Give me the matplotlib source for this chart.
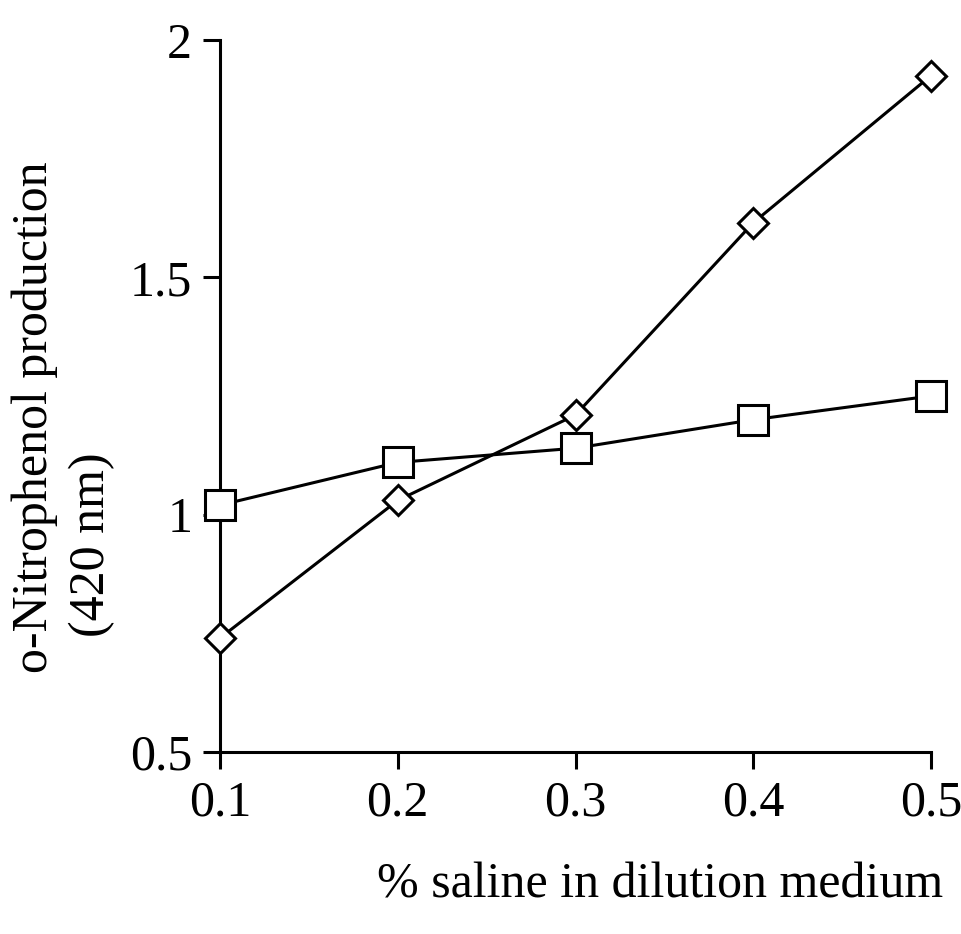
import matplotlib
matplotlib.use("Agg")
import matplotlib.pyplot as plt

saline = [0.1, 0.2, 0.3, 0.4, 0.5]
squares = [1.02, 1.11, 1.14, 1.20, 1.25]
diamonds = [0.74, 1.03, 1.21, 1.615, 1.925]
xticks = [0.1, 0.2, 0.3, 0.4, 0.5]
yticks = [0.5, 1, 1.5, 2]
ytick_labels = ["0.5", "1", "1.5", "2"]

plt.rcParams['font.family'] = ['Liberation Serif', 'DejaVu Serif']

fig = plt.figure(figsize=(9.62, 9.34), dpi=100)
ax = fig.add_axes([0.2287, 0.1949, 0.7391, 0.7623])

ax.plot(saline, diamonds, color='black', lw=2.2, marker='D', ms=15,
        mfc='white', mec='black', mew=2.2, clip_on=False, zorder=3)
ax.plot(saline, squares, color='black', lw=2.2, marker='s', ms=22,
        mfc='white', mec='black', mew=2.2, clip_on=False, zorder=3)

ax.set_xlim(0.1, 0.5)
ax.set_ylim(0.5, 2)
ax.set_xticks(xticks)
ax.set_xticklabels([f"{v:.1f}" for v in xticks])
ax.set_yticks(yticks)
ax.set_yticklabels(ytick_labels)

for s in ['top', 'right']:
    ax.spines[s].set_visible(False)
for s in ['left', 'bottom']:
    ax.spines[s].set_linewidth(2.2)
ax.tick_params(axis='both', direction='out', length=12, width=2.2,
               labelsize=36, pad=8)

# y label: two lines, placed separately as in the original
fig.text(0.0364, 0.5535, "o-Nitrophenol production", fontsize=36,
         rotation=90, ha='center', va='center')
fig.text(0.0957, 0.4165, "(420 nm)", fontsize=36,
         rotation=90, ha='center', va='center')
fig.text(0.686, 0.052, "% saline in dilution medium", fontsize=36,
         ha='center', va='center')

fig.savefig("out.png", dpi=100)
